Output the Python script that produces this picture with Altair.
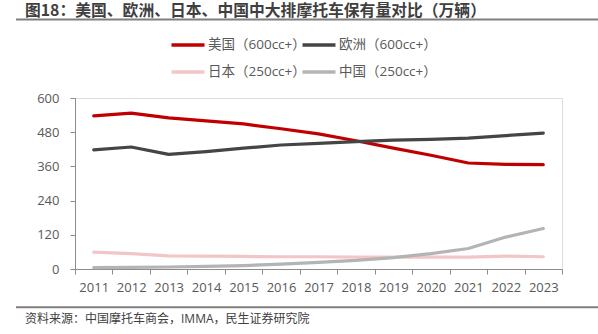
import altair as alt
import pandas as pd

years = [str(y) for y in range(2011, 2024)]
us_600 = [537, 547, 530, 520, 509, 492, 474, 450, 424, 399, 372, 367, 366]
eu_600 = [418, 428, 402, 412, 424, 435, 441, 447, 452, 455, 459, 468, 477]
jp_250 = [59, 54, 46, 45, 44, 43, 43, 42, 42, 42, 42, 45, 43]
cn_250 = [5, 6, 7, 9, 12, 17, 23, 30, 40, 54, 72, 112, 142]

series_names = ["美国（600cc+）", "欧洲（600cc+）", "日本（250cc+）", "中国（250cc+）"]
series_colors = ["#C00000", "#454545", "#F2C6C6", "#B4B4B4"]
y_ticks = [0, 120, 240, 360, 480, 600]

title_text = "图18：美国、欧洲、日本、中国中大排摩托车保有量对比（万辆）"
source_text = "资料来源：中国摩托车商会，IMMA，民生证券研究院"

FONT = "Noto Sans CJK SC"
MIXED = "Open Sans, Noto Sans CJK SC"

rows = []
for name, vals in zip(series_names, [us_600, eu_600, jp_250, cn_250]):
    for y, v in zip(years, vals):
        rows.append({"year": y, "value": v, "series": name})
df = pd.DataFrame(rows)

lines = alt.Chart(df).mark_line(strokeWidth=3.2, strokeCap="round", strokeJoin="round").encode(
    x=alt.X("year:O", bandPosition=0.5,
            scale=alt.Scale(type="band", paddingInner=0, paddingOuter=0),
            axis=alt.Axis(title=None, labelAngle=0, tickBand="extent", labelFont=MIXED,
                          labelFontSize=13, labelColor="#595959", domainColor="#8C8C8C",
                          tickColor="#8C8C8C", tickSize=5, labelPadding=7, grid=False)),
    y=alt.Y("value:Q", scale=alt.Scale(domain=[0, 600], nice=False),
            axis=alt.Axis(title=None, values=y_ticks, labelFont=MIXED, labelFontSize=13,
                          labelColor="#595959", domainColor="#8C8C8C", tickColor="#8C8C8C",
                          tickSize=5, labelPadding=11, grid=False)),
    color=alt.Color("series:N",
                    scale=alt.Scale(domain=series_names, range=series_colors),
                    sort=series_names,
                    legend=alt.Legend(title=None, orient="none", legendX=103, legendY=-63,
                                      direction="horizontal",
                                      columns=2, symbolType="M-2,0H2", symbolSize=272,
                                      symbolStrokeWidth=3.5, labelFont=MIXED, labelFontSize=13.5,
                                      labelColor="#595959", labelOffset=10, columnPadding=-11,
                                      rowPadding=10, padding=0)),
    order=alt.Order("series:N"),
)

title = alt.Chart(pd.DataFrame({"t": [title_text]})).mark_text(
    align="left", baseline="middle", font=FONT, fontSize=15.8, fontWeight="bold", color="#3F3F3F"
).encode(text="t:N", x=alt.value(-50), y=alt.value(-86.8))

source = alt.Chart(pd.DataFrame({"t": [source_text]})).mark_text(
    align="left", baseline="middle", font=MIXED, fontSize=12, color="#404040"
).encode(text="t:N", x=alt.value(-50), y=alt.value(221))

top_rule = alt.Chart(pd.DataFrame({"a": [0]})).mark_rule(color="#7F7F7F", strokeWidth=2).encode(
    x=alt.value(-59), x2=alt.value(523), y=alt.value(-78.5))
bottom_rule = alt.Chart(pd.DataFrame({"a": [0]})).mark_rule(color="#7F7F7F", strokeWidth=2).encode(
    x=alt.value(-59), x2=alt.value(523), y=alt.value(209.3))

chart = alt.layer(lines, title, source, top_rule, bottom_rule).properties(
    width=487, height=171,
    autosize=alt.AutoSizeParams(type="none"),
    padding={"left": 75, "top": 98, "right": 36, "bottom": 65},
).configure_view(stroke=None).configure(background="white")

chart.save("out.html", embed_options={"renderer": "svg", "actions": False})
